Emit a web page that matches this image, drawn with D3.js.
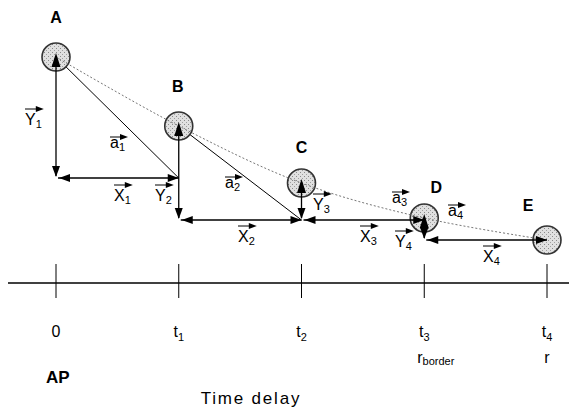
<!DOCTYPE html>
<html><head><meta charset="utf-8">
<script src="https://cdn.jsdelivr.net/npm/d3@7"></script>
<style>body{margin:0;background:#fff}svg{display:block}</style>
</head><body>
<svg id="c" width="569" height="411"></svg>
<script>
// ---------- data ----------
const pointNames = ["A", "B", "C", "D", "E"];
const times = [0, 1, 2, 3, 4];
const pointHeights = [226, 157, 100, 65, 43];   // height of each position above the time axis
const footHeights = [105, 63, 63, 43];          // height of each horizontal X vector
const tickMain = ["0", "t", "t", "t", "t"];
const tickSub = ["", "1", "2", "3", "4"];
const distMain = ["", "", "", "r", "r"];
const distSub = ["", "", "", "border", ""];
const vecLabels = ["Y1", "a1", "X1", "Y2", "a2", "X2", "Y3", "a3", "X3", "Y4", "a4", "X4"];
const diagonalSteps = [0, 1];                    // steps whose a-vector is drawn as a solid line
const axisTitle = "Time delay";
const apLabel = "AP";

// ---------- layout ----------
const W = 569, H = 411;
const x = d3.scaleLinear().domain([0, 4]).range([56, 547]);
const y = d3.scaleLinear().domain([0, 283]).range([283, 0]);
const R = 14;
const nameOffset = [[0, -34], [-1, -34], [0, -30], [12, -25], [-19, -29]];
const labelPos = {
  Y1: [25, 125], a1: [110, 148], X1: [114, 201], Y2: [155, 201],
  a2: [225, 188], X2: [238, 242], Y3: [313, 210], a3: [392, 203],
  X3: [360, 242], Y4: [395, 247], a4: [448, 216], X4: [483, 262]
};
const FONT = "'Liberation Sans', Arial, sans-serif";
const NARROW = "'Liberation Sans Narrow', 'Liberation Sans', Arial, sans-serif";

const svg = d3.select("#c");
svg.append("rect").attr("width", W).attr("height", H).attr("fill", "#fff");

const defs = svg.append("defs");
const pat = defs.append("pattern").attr("id", "stip").attr("width", 4).attr("height", 4)
  .attr("patternUnits", "userSpaceOnUse");
pat.append("rect").attr("width", 4).attr("height", 4).attr("fill", "#e0e0e0");
pat.append("rect").attr("x", 0).attr("y", 0).attr("width", 1).attr("height", 1).attr("fill", "#8a8a8a");
pat.append("rect").attr("x", 2).attr("y", 2).attr("width", 1).attr("height", 1).attr("fill", "#a0a0a0");

function head(g, hx, hy, ang, len, wid) {
  const bx = hx - Math.cos(ang) * len, by = hy - Math.sin(ang) * len;
  const px = -Math.sin(ang) * wid / 2, py = Math.cos(ang) * wid / 2;
  g.append("path")
    .attr("d", `M${hx},${hy}L${bx + px},${by + py}L${bx - px},${by - py}Z`)
    .attr("fill", "#000");
}

const pts = times.map((t, i) => ({ name: pointNames[i], cx: x(t), cy: y(pointHeights[i]) }));

// ---------- time axis ----------
const ax = svg.append("g");
ax.append("line").attr("x1", 8).attr("x2", W).attr("y1", y(0)).attr("y2", y(0))
  .attr("stroke", "#000").attr("stroke-width", 1.3);
times.forEach(t => {
  ax.append("line").attr("x1", x(t)).attr("x2", x(t)).attr("y1", y(0) - 19).attr("y2", y(0) + 15)
    .attr("stroke", "#000").attr("stroke-width", 1);
});
times.forEach((t, i) => {
  const tx = ax.append("text").attr("x", x(t)).attr("y", 337).attr("text-anchor", "middle")
    .attr("font-family", NARROW).attr("font-size", 16).attr("fill", "#000").text(tickMain[i]);
  if (tickSub[i]) tx.append("tspan").attr("font-size", 11).attr("dy", 4).text(tickSub[i]);
  if (distMain[i]) {
    const dx = distSub[i] ? ax.append("text").attr("x", x(t) - 7).attr("text-anchor", "start")
                          : ax.append("text").attr("x", x(t)).attr("text-anchor", "middle");
    dx.attr("y", 363).attr("font-family", NARROW).attr("font-size", 16).attr("fill", "#000").text(distMain[i]);
    if (distSub[i]) dx.append("tspan").attr("font-size", 11).attr("dy", 2).text(distSub[i]);
  }
});
svg.append("text").attr("x", 46).attr("y", 383).attr("font-family", FONT).attr("font-weight", "bold")
  .attr("font-size", 17).attr("fill", "#000").text(apLabel);
svg.append("text").attr("x", 251).attr("y", 404).attr("text-anchor", "middle").attr("font-family", FONT)
  .attr("font-size", 17).attr("letter-spacing", 1.8).attr("fill", "#000").text(axisTitle);

// ---------- diagonal a-vectors (under circles) ----------
const lines = svg.append("g");
diagonalSteps.forEach(i => {
  lines.append("line").attr("x1", pts[i].cx).attr("y1", pts[i].cy)
    .attr("x2", pts[i + 1].cx).attr("y2", y(footHeights[i]))
    .attr("stroke", "#000").attr("stroke-width", 1);
});

// ---------- circles ----------
svg.append("g").selectAll("circle").data(pts).join("circle")
  .attr("cx", d => d.cx).attr("cy", d => d.cy).attr("r", R)
  .attr("fill", "url(#stip)").attr("stroke", "#333").attr("stroke-width", 1.6);

// ---------- dotted trajectory ----------
svg.append("path")
  .attr("d", d3.line().x(d => d.cx).y(d => d.cy).curve(d3.curveCatmullRom)(pts))
  .attr("fill", "none").attr("stroke", "#777").attr("stroke-width", 1).attr("stroke-dasharray", "2,2");

// ---------- Y and X vectors ----------
const vec = svg.append("g");
footHeights.forEach((fh, i) => {
  const p = pts[i], q = pts[i + 1], fy = y(fh);
  // vertical Y
  vec.append("line").attr("x1", p.cx).attr("x2", p.cx).attr("y1", p.cy).attr("y2", fy - 2)
    .attr("stroke", "#000").attr("stroke-width", 1.3);
  head(vec, p.cx, p.cy - 4, -Math.PI / 2, 14, 9);
  head(vec, p.cx, fy - 1, Math.PI / 2, 11, 8);
  // horizontal X
  vec.append("line").attr("x1", p.cx + 2).attr("x2", q.cx).attr("y1", fy).attr("y2", fy)
    .attr("stroke", "#000").attr("stroke-width", 1.3);
  head(vec, p.cx + 3, fy, Math.PI, 11, 8);
  head(vec, q.cx, fy, 0, 11, 8);
});

// ---------- point names ----------
svg.append("g").selectAll("text").data(pts).join("text")
  .attr("x", (d, i) => d.cx + nameOffset[i][0]).attr("y", (d, i) => d.cy + nameOffset[i][1])
  .attr("text-anchor", "middle").attr("font-family", FONT).attr("font-weight", "bold")
  .attr("font-size", 16).attr("fill", "#000").text(d => d.name);

// ---------- vector labels ----------
const lab = svg.append("g");
vecLabels.forEach(name => {
  const [lx, ly] = labelPos[name];
  const letter = name[0], sub = name.slice(1);
  const t = lab.append("text").attr("x", lx).attr("y", ly).attr("font-family", NARROW)
    .attr("font-size", 16).attr("fill", "#000").text(letter);
  t.append("tspan").attr("font-size", 11).attr("dy", 3).text(sub);
  const w = t.node().getComputedTextLength();
  const ay = ly - (letter === "a" ? 11 : 16);
  const x2 = lx + Math.max(w + 2, 18);
  lab.append("line").attr("x1", lx).attr("x2", x2 - 5).attr("y1", ay).attr("y2", ay)
    .attr("stroke", "#000").attr("stroke-width", 1);
  head(lab, x2, ay, 0, 8, 6);
});
</script>
</body></html>
